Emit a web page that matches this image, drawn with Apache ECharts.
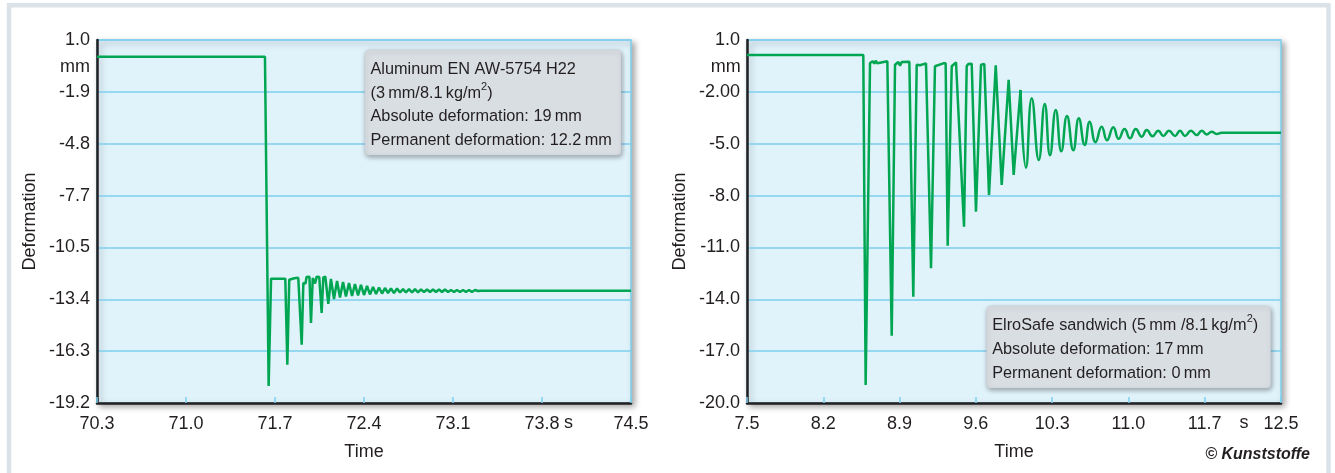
<!DOCTYPE html>
<html>
<head>
<meta charset="utf-8">
<script src="https://cdn.jsdelivr.net/npm/echarts@6/dist/echarts.min.js"></script>
<style>
html,body{margin:0;padding:0;background:#fff;}
#chart{width:1335px;height:473px;}
</style>
</head>
<body>
<div id="chart"></div>
<script>
// ---------- Data ----------
// Left: Aluminum EN AW-5754 H22
const leftTime = [70.300, 71.621, 71.650, 71.669, 71.781, 71.797, 71.812, 71.852, 71.883, 71.910,
  71.923, 71.940, 71.948, 71.971, 71.983, 71.997, 72.015, 72.028, 72.048, 72.067,
  72.080, 72.096, 72.119,
  72.140, 72.164, 72.188, 72.211, 72.235, 72.258, 72.282, 72.306, 72.329, 72.353,
  72.376, 72.400, 72.424, 72.447, 72.471, 72.495, 72.518, 72.542, 72.565, 72.589,
  72.612, 72.636, 72.660, 72.683, 72.707, 72.730, 72.754, 72.778, 72.801, 72.825,
  72.848, 72.872, 72.896, 72.919, 72.943, 72.966, 72.990, 73.014, 73.037, 73.061,
  73.084, 73.108, 73.131, 73.155, 73.179, 73.202, 73.226, 73.249, 73.273, 73.297,
  73.320, 74.500];
const leftDeform = [0.07, 0.07, -18.25, -12.28, -12.28, -17.07, -12.34, -12.26, -12.23, -15.96,
  -12.52, -12.55, -12.19, -12.17, -14.75, -12.24, -12.55, -12.17, -12.19, -14.19,
  -12.21, -12.17, -13.69,
  -12.30, -13.41, -12.41, -13.33, -12.47, -13.27, -12.52, -13.25, -12.58, -13.22,
  -12.63, -13.19, -12.69, -13.16, -12.75, -13.13, -12.77, -13.11, -12.80, -13.08,
  -12.83, -13.08, -12.83, -13.05, -12.86, -13.05, -12.86, -13.05, -12.86, -13.05,
  -12.88, -13.02, -12.88, -13.02, -12.88, -13.02, -12.88, -13.02, -12.88, -13.02,
  -12.91, -13.02, -12.91, -13.02, -12.91, -13.02, -12.91, -13.02, -12.91, -12.97,
  -12.95, -12.95];

// Right: ElroSafe sandwich - impact phase (sharp spikes)
const rightTimeA = [7.500, 8.589, 8.611, 8.652, 8.661, 8.677, 8.692, 8.705, 8.720, 8.814,
  8.827, 8.855, 8.886, 8.902, 8.917, 8.933, 8.949, 9.020, 9.057, 9.089,
  9.104, 9.120, 9.136, 9.176, 9.223, 9.260, 9.276, 9.338, 9.360, 9.379,
  9.417, 9.432, 9.457, 9.473, 9.532, 9.557, 9.572, 9.604, 9.644, 9.691,
  9.707, 9.722, 9.766, 9.829, 9.885, 9.950, 9.997, 10.061];
const rightDeformA = [0.13, 0.13, -18.96, -0.33, -0.39, -0.23, -0.37, -0.20, -0.35, -0.23,
  -0.26, -16.11, -0.43, -0.33, -0.27, -0.49, -0.27, -0.26, -13.85, -0.43,
  -0.39, -0.46, -0.39, -0.35, -12.21, -0.52, -0.43, -0.35, -0.35, -10.90,
  -0.52, -0.43, -0.29, -0.39, -9.80, -0.52, -0.39, -0.37, -8.93, -0.43,
  -0.33, -0.39, -7.97, -0.46, -7.39, -1.31, -6.81, -1.89];
// Right: decaying vibration (smooth)
const rightTimeB = [10.061, 10.112, 10.166, 10.232, 10.288, 10.337, 10.391, 10.443, 10.496, 10.555,
  10.607, 10.662, 10.709, 10.763, 10.821, 10.871, 10.930, 10.980, 11.035, 11.086,
  11.140, 11.196, 11.243, 11.297, 11.351, 11.398, 11.451, 11.508, 11.554, 11.601,
  11.657, 11.711, 11.758, 11.804, 11.851, 11.898, 11.945, 12.500];
const rightDeformB = [-1.89, -6.39, -2.37, -5.94, -2.70, -5.67, -3.05, -5.44, -3.40, -5.38,
  -3.53, -5.07, -3.73, -4.91, -4.02, -4.80, -4.05, -4.72, -4.15, -4.69,
  -4.15, -4.59, -4.21, -4.57, -4.25, -4.55, -4.25, -4.55, -4.25, -4.55,
  -4.25, -4.50, -4.25, -4.46, -4.31, -4.44, -4.36, -4.36];

// Tick labels (as printed)
const leftXLabels = ['70.3', '71.0', '71.7', '72.4', '73.1', '73.8', '74.5'];
const leftYLabels = ['-19.2', '-16.3', '-13.4', '-10.5', '-7.7', '-4.8', '-1.9', '1.0'];
const rightXLabels = ['7.5', '8.2', '8.9', '9.6', '10.3', '11.0', '11.7', '12.5'];
const rightYLabels = ['-20.0', '-17.0', '-14.0', '-11.0', '-8.0', '-5.0', '-2.00', '1.0'];
const leftXRange = [70.3, 74.5];
const leftYRange = [-19.2, 1.0];
const rightXRange = [7.5, 12.5];
const rightYRange = [-20.0, 1.0];

// ---------- Styles ----------
const FONT = '"Liberation Sans", Arial, sans-serif';
const TXT = '#231f20';
const GRID_LINE = '#7fcfee';
const GREEN = '#00a651';

function evenTicks(range, labels) {
  const n = labels.length;
  const ticks = labels.map((_, i) => range[0] + i * (range[1] - range[0]) / (n - 1));
  const fmt = function (v) {
    let best = 0;
    for (let i = 1; i < n; i++) if (Math.abs(ticks[i] - v) < Math.abs(ticks[best] - v)) best = i;
    return labels[best];
  };
  return { ticks, fmt };
}

function xAxisCfg(idx, range, labels) {
  const t = evenTicks(range, labels);
  return {
    type: 'value', gridIndex: idx, min: range[0], max: range[1],
    name: 'Time', nameLocation: 'middle', nameGap: 40,
    nameTextStyle: { color: TXT, fontSize: 18, fontFamily: FONT },
    axisLine: { show: true, onZero: false, lineStyle: { color: TXT, width: 2.5 } },
    axisTick: { show: true, inside: true, length: 6, customValues: t.ticks,
      lineStyle: { color: GRID_LINE, width: 1.5 } },
    axisLabel: { customValues: t.ticks, formatter: t.fmt, color: TXT, fontSize: 18,
      fontFamily: FONT, margin: 12 },
    splitLine: { show: false }
  };
}
function yAxisCfg(idx, range, labels) {
  const t = evenTicks(range, labels);
  return {
    type: 'value', gridIndex: idx, min: range[0], max: range[1],
    name: 'Deformation', nameLocation: 'middle', nameRotate: 90, nameGap: 58,
    nameMoveOverlap: false,
    nameTextStyle: { color: TXT, fontSize: 18, fontFamily: FONT },
    axisLine: { show: true, onZero: false, lineStyle: { color: TXT, width: 2.5 } },
    axisTick: { show: false, customValues: t.ticks },
    axisLabel: { customValues: t.ticks, formatter: t.fmt, color: TXT, fontSize: 18,
      fontFamily: FONT, margin: 7 },
    splitLine: { show: true, lineStyle: { color: GRID_LINE, width: 1.5 } }
  };
}
const gridStyle = {
  show: true, backgroundColor: '#e0f2fa', borderColor: GRID_LINE, borderWidth: 1.5,
  shadowBlur: 6, shadowColor: 'rgba(0,0,0,0.35)', shadowOffsetX: 3, shadowOffsetY: 3,
  containLabel: false, outerBoundsMode: 'none'
};
const zip = (a, b) => a.map((v, i) => [v, b[i]]);
const lineSeries = (xi, data, smooth) => ({
  type: 'line', xAxisIndex: xi, yAxisIndex: xi, data: data, showSymbol: false,
  smooth: smooth, lineStyle: { color: GREEN, width: 2.5 }, itemStyle: { color: GREEN },
  animation: false, z: 3
});

function noteBox(x, y, w, h, text, lineH) {
  return [
    { type: 'rect', z: 100, zlevel: 0, silent: true, shape: { x: x, y: y, width: w, height: h, r: 4 },
      style: { fill: '#d9dee3', stroke: '#c9cfd5', lineWidth: 0.5,
        shadowBlur: 5, shadowColor: 'rgba(0,0,0,0.35)', shadowOffsetX: 1, shadowOffsetY: 2 } },
    { type: 'text', z: 101, zlevel: 0, silent: true, x: x + 5.5, y: y + 7.5,
      style: { text: text, fill: TXT, fontSize: 16.3, fontFamily: FONT, lineHeight: lineH,
        verticalAlign: 'top', align: 'left',
        rich: { sup: { fontSize: 11, lineHeight: 11, verticalAlign: 'top', fill: TXT, fontFamily: FONT } } } }
  ];
}
const plainText = (x, y, text, align, extra) => ({
  type: 'text', x: x, y: y, z: 100, silent: true,
  style: Object.assign({ text: text, fill: TXT, fontSize: 18, fontFamily: FONT,
    align: align, verticalAlign: 'middle' }, extra || {})
});

const chart = echarts.init(document.getElementById('chart'), null, { renderer: 'canvas' });
chart.setOption({
  animation: false,
  backgroundColor: '#ffffff',
  grid: [
    Object.assign({ left: 97, top: 40, width: 534, height: 363 }, gridStyle),
    Object.assign({ left: 747, top: 40, width: 534, height: 363 }, gridStyle)
  ],
  xAxis: [xAxisCfg(0, leftXRange, leftXLabels), xAxisCfg(1, rightXRange, rightXLabels)],
  yAxis: [yAxisCfg(0, leftYRange, leftYLabels), yAxisCfg(1, rightYRange, rightYLabels)],
  series: [
    lineSeries(0, zip(leftTime, leftDeform), false),
    lineSeries(1, zip(rightTimeA, rightDeformA), false),
    lineSeries(1, zip(rightTimeB, rightDeformB), 0.5)
  ],
  graphic: [
    { type: 'rect', z: -1, silent: true, shape: { x: 9, y: 5.3, width: 1319.5, height: 520 },
      style: { fill: 'none', stroke: '#dbe2e8', lineWidth: 4.5 } }
  ].concat(
    noteBox(365, 50, 256, 105,
      'Aluminum EN AW-5754 H22\n(3\u2009mm/8.1\u2009kg/m{sup|2})\nAbsolute deformation: 19\u2009mm\nPermanent deformation: 12.2\u2009mm', 23.7),
    noteBox(986.7, 306, 284, 82,
      'ElroSafe sandwich (5\u2009mm /8.1\u2009kg/m{sup|2})\nAbsolute deformation: 17\u2009mm\nPermanent deformation: 0\u2009mm', 24),
    [
      plainText(90, 67, 'mm', 'right'),
      plainText(740.7, 67, 'mm', 'right'),
      plainText(568.5, 423.5, 's', 'center'),
      plainText(1244, 423.5, 's', 'center'),
      plainText(1310, 455, '\u00a9 Kunststoffe', 'right', { fontSize: 16, fontWeight: 'bold', fontStyle: 'italic' })
    ]
  )
});
</script>
</body>
</html>
